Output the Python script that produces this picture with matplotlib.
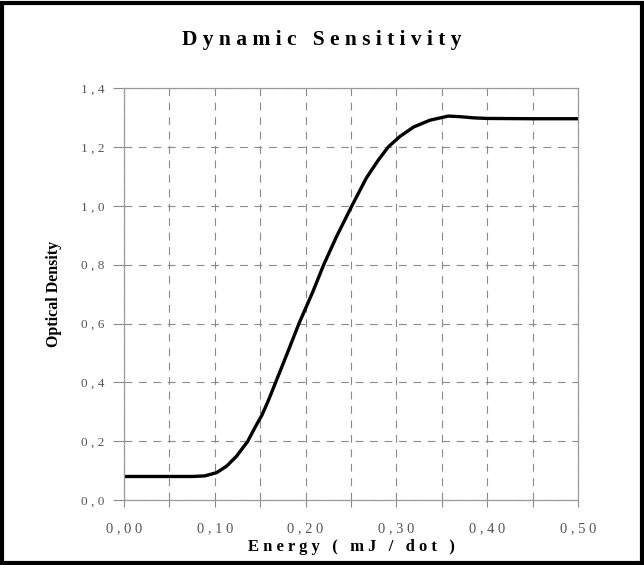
import matplotlib.pyplot as plt
from matplotlib.patches import Rectangle

# energy (mJ/dot) vs optical density
energy = [0.00, 0.04, 0.075, 0.089, 0.102, 0.113, 0.124, 0.131, 0.136, 0.144,
          0.152, 0.159, 0.166, 0.18, 0.193, 0.208, 0.22, 0.234, 0.251, 0.267,
          0.28, 0.291, 0.304, 0.319, 0.337, 0.357, 0.37, 0.385, 0.40, 0.45, 0.50]
density = [0.08, 0.08, 0.08, 0.082, 0.093, 0.115, 0.149, 0.178, 0.198, 0.245,
           0.289, 0.338, 0.392, 0.50, 0.602, 0.708, 0.80, 0.895, 1.00, 1.095,
           1.155, 1.20, 1.236, 1.268, 1.291, 1.305, 1.303, 1.299, 1.297, 1.296, 1.296]

x_ticks = [0.0, 0.1, 0.2, 0.3, 0.4, 0.5]
x_labels = ['0 , 0 0', '0 , 1 0', '0 , 2 0', '0 , 3 0', '0 , 4 0', '0 , 5 0']
y_ticks = [0.0, 0.2, 0.4, 0.6, 0.8, 1.0, 1.2, 1.4]
y_labels = ['0 , 0', '0 , 2', '0 , 4', '0 , 6', '0 , 8', '1 , 0', '1 , 2', '1 , 4']

serif = 'Liberation Serif'

fig = plt.figure(figsize=(6.44, 5.65), dpi=100)
ax = fig.add_axes([0.1925, 0.115, 0.705, 0.729])

ax.plot(energy, density, color='black', lw=2.4, solid_capstyle='round',
        solid_joinstyle='round')

ax.set_xlim(0, 0.5)
ax.set_ylim(0, 1.4)
ax.set_xticks(x_ticks)
ax.set_xticklabels(x_labels)
ax.set_xticks([0.05, 0.15, 0.25, 0.35, 0.45], minor=True)
ax.set_yticks(y_ticks)
ax.set_yticklabels(y_labels)

ax.grid(True, which='both', color='#8a8a8a', lw=0.8, linestyle=(0, (7, 6)))
ax.set_axisbelow(True)

for s in ax.spines.values():
    s.set_color('#9a9a9a')
    s.set_linewidth(0.9)

ax.tick_params(axis='y', direction='out', length=8, width=0.8, color='#8a8a8a',
               labelsize=9.5, labelcolor='#555555', pad=6)
ax.tick_params(axis='x', which='both', direction='out', length=5, width=0.8,
               color='#8a8a8a', labelsize=10.5, labelcolor='#555555', pad=11)
for lab in ax.get_xticklabels() + ax.get_yticklabels():
    lab.set_fontfamily(serif)

fig.text(0.5, 0.929, 'D y n a m i c   S e n s i t i v i t y', ha='center', va='center',
         fontsize=15.5, fontweight='bold', family=serif)
ax.set_xlabel('E n e r g y   (   m J   /   d o t   )', fontsize=12, fontweight='bold',
              family=serif, labelpad=3)
ax.set_ylabel('Optical Density', fontsize=11.5, fontweight='bold', family=serif,
              labelpad=14)

fig.patches.append(Rectangle((0.003, 0.004), 0.994, 0.99, transform=fig.transFigure,
                             fill=False, edgecolor='black', lw=3))

fig.savefig('out.png', dpi=100)
